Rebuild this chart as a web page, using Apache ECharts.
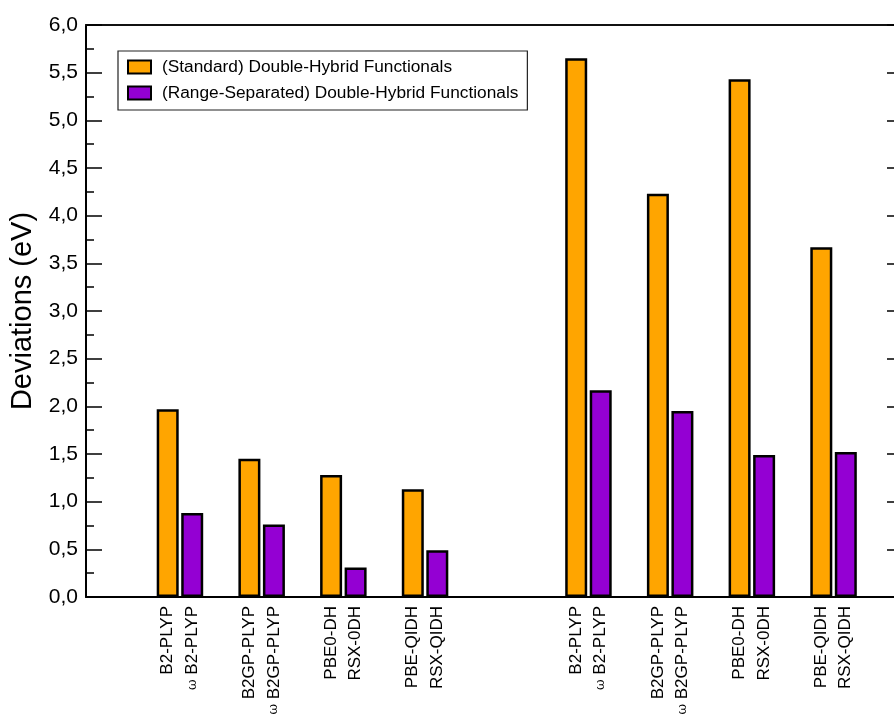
<!DOCTYPE html>
<html>
<head>
<meta charset="utf-8">
<script src="https://cdn.jsdelivr.net/npm/echarts@6/dist/echarts.min.js"></script>
<style>
  html, body { margin: 0; padding: 0; background: #fff; }
  #chart { width: 894px; height: 715px; }
</style>
</head>
<body>
<div id="chart"></div>
<script>
// Functional pairs: standard double hybrid and its range-separated counterpart
const standardNames = ['B2-PLYP', 'B2GP-PLYP', 'PBE0-DH', 'PBE-QIDH', 'B2-PLYP', 'B2GP-PLYP', 'PBE0-DH', 'PBE-QIDH'];
const rangeSepNames = ['ω B2-PLYP', 'ω B2GP-PLYP', 'RSX-0DH', 'RSX-QIDH', 'ω B2-PLYP', 'ω B2GP-PLYP', 'RSX-0DH', 'RSX-QIDH'];
// Slot of each pair along the x axis (slot 5 left empty between the two sets)
const pairSlots = [1, 2, 3, 4, 6, 7, 8, 9];
const rangeSepShift = 0.3;
// Deviations (eV)
const standardValues = [1.97, 1.45, 1.28, 1.13, 5.65, 4.23, 5.43, 3.67];
const rangeSepValues = [0.88, 0.76, 0.31, 0.49, 2.17, 1.95, 1.49, 1.52];

const FONT = 'Liberation Sans, Arial, sans-serif';

const labelByPos = {};
const labelPositions = [];
pairSlots.forEach((s, i) => {
  labelByPos[s.toFixed(1)] = standardNames[i];
  labelByPos[(s + rangeSepShift).toFixed(1)] = rangeSepNames[i];
  labelPositions.push(s, +(s + rangeSepShift).toFixed(1));
});

function fmtLabel(v) {
  const name = labelByPos[(+v).toFixed(1)] || '';
  if (name.startsWith('ω ')) return '{w|ω} ' + name.slice(2);
  return name;
}

const chart = echarts.init(document.getElementById('chart'));
chart.setOption({
  backgroundColor: '#ffffff',
  animation: false,
  textStyle: { fontFamily: FONT },
  grid: { left: 86, top: 25, width: 817, height: 572, containLabel: false, outerBoundsMode: 'none' },
  legend: {
    orient: 'vertical',
    left: 118,
    top: 51,
    icon: 'rect',
    itemWidth: 23,
    itemHeight: 13,
    itemGap: 8,
    padding: [7, 9, 8, 9],
    borderColor: '#222',
    borderWidth: 1.2,
    backgroundColor: '#fff',
    textStyle: { fontFamily: FONT, fontSize: 17.3, color: '#000', padding: [0, 0, 0, 6], lineHeight: 18 },
    data: ['(Standard) Double-Hybrid Functionals', '(Range-Separated) Double-Hybrid Functionals']
  },
  xAxis: [
    {
      type: 'value',
      position: 'bottom',
      min: 0,
      max: 10,
      splitLine: { show: false },
      axisLine: { show: true, onZero: false, lineStyle: { color: '#000', width: 2 } },
      axisTick: { show: false },
      axisLabel: {
        customValues: labelPositions,
        rotate: 90,
        margin: 9,
        fontFamily: FONT,
        fontSize: 17,
        color: '#000',
        formatter: fmtLabel,
        rich: { w: { fontSize: 13, fontFamily: 'DejaVu Serif, serif', color: '#000' } }
      }
    },
    {
      type: 'value',
      position: 'top',
      min: 0,
      max: 10,
      splitLine: { show: false },
      axisLine: { show: true, onZero: false, lineStyle: { color: '#111', width: 2 } },
      axisTick: { show: false },
      axisLabel: { show: false }
    }
  ],
  yAxis: [
    {
      type: 'value',
      position: 'left',
      min: 0,
      max: 6,
      interval: 0.5,
      name: 'Deviations (eV)',
      nameLocation: 'middle',
      nameGap: 48,
      nameTextStyle: { fontFamily: FONT, fontSize: 29, color: '#000' },
      splitLine: { show: false },
      axisLine: { show: true, onZero: false, lineStyle: { color: '#000', width: 2 } },
      axisTick: { show: true, inside: true, length: 16, lineStyle: { color: '#000', width: 1.5 } },
      minorTick: { show: true, splitNumber: 2, length: 8, lineStyle: { color: '#000', width: 1.5 } },
      axisLabel: {
        margin: 8,
        fontFamily: FONT,
        fontSize: 21,
        color: '#000',
        formatter: v => v.toFixed(1).replace('.', ',')
      }
    },
    {
      type: 'value',
      position: 'right',
      min: 0,
      max: 6,
      interval: 0.5,
      splitLine: { show: false },
      axisLine: { show: true, onZero: false, lineStyle: { color: '#000', width: 2 } },
      axisTick: { show: true, inside: true, length: 16, lineStyle: { color: '#000', width: 1.5 } },
      minorTick: { show: true, splitNumber: 2, length: 8, lineStyle: { color: '#000', width: 1.5 } },
      axisLabel: { show: false }
    }
  ],
  series: [
    {
      name: '(Standard) Double-Hybrid Functionals',
      type: 'bar',
      xAxisIndex: 0,
      yAxisIndex: 0,
      barWidth: 22,
      barGap: '-100%',
      itemStyle: { color: '#FFA500', borderColor: '#000', borderWidth: 2.5 },
      data: pairSlots.map((s, i) => [s, standardValues[i]])
    },
    {
      name: '(Range-Separated) Double-Hybrid Functionals',
      type: 'bar',
      xAxisIndex: 0,
      yAxisIndex: 0,
      barWidth: 22,
      barGap: '-100%',
      itemStyle: { color: '#9400D3', borderColor: '#000', borderWidth: 2.5 },
      data: pairSlots.map((s, i) => [+(s + rangeSepShift).toFixed(1), rangeSepValues[i]])
    }
  ]
});
</script>
</body>
</html>
